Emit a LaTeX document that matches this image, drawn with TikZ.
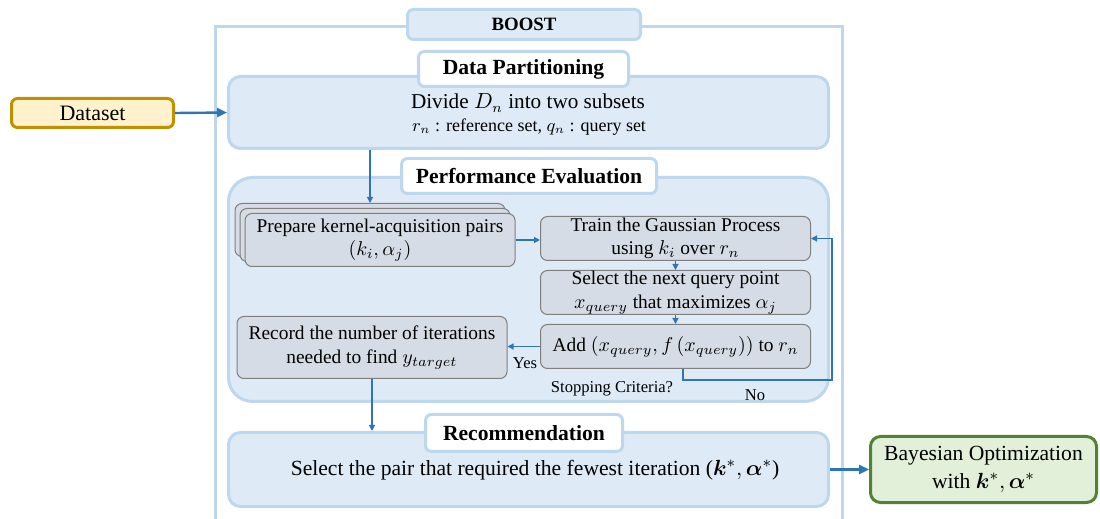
\documentclass[tikz,border=0pt]{standalone}
\usepackage{amsmath,bm}
\usepackage{fontspec}
\setmainfont{Liberation Serif}
\usetikzlibrary{arrows.meta}
\definecolor{lblue}{HTML}{BDD7EE}
\definecolor{fblue}{HTML}{DEEBF7}
\definecolor{gfill}{HTML}{D6DCE5}
\definecolor{gline}{HTML}{7F7F7F}
\definecolor{ablue}{HTML}{2E75B6}
\definecolor{dfill}{HTML}{FFF2CC}
\definecolor{dline}{HTML}{BF9000}
\definecolor{bfill}{HTML}{E2F0D9}
\definecolor{bline}{HTML}{548235}
\begin{document}
\begin{tikzpicture}[x=0.5pt,y=-0.5pt,
  bigbox/.style={draw=lblue, fill=fblue, line width=1.5pt, rounded corners=6pt, minimum width=300pt, inner sep=0pt},
  titlebox/.style={draw=lblue, fill=white, line width=1.5pt, rounded corners=3pt, inner sep=0pt, font=\fontsize{10.8}{12}\selectfont\bfseries},
  gbox/.style={draw=gline, fill=gfill, line width=0.5pt, rounded corners=3.5pt, minimum width=135pt, align=center, font=\fontsize{9.7}{11.7}\selectfont, inner sep=0pt},
  arr/.style={-{Triangle[length=3pt,width=3pt]}, draw=ablue, line width=0.6pt},
  barr/.style={-{Triangle[length=5pt,width=4.5pt]}, draw=ablue, line width=1.2pt},
  lbl/.style={font=\fontsize{8.3}{9}\selectfont, inner sep=0pt},
  txt/.style={inner sep=0pt, align=center}]
\useasboundingbox (0,0) rectangle (1100,519);
% outer frame
\coordinate (fbl) at (215,519);
\coordinate (ftl) at (215,27);
\coordinate (ftr) at (842,27);
\coordinate (fbr) at (842,519);
\draw[draw=lblue, line width=1.5pt] (fbl) -- (ftl) -- (ftr) -- (fbr);
\node[titlebox, font=\fontsize{9.4}{11}\selectfont\bfseries, fill=fblue, minimum width=116.5pt, minimum height=15pt] (boost) at (524,24.5) {BOOST};
% dataset
\node[draw=dline, fill=dfill, line width=1.5pt, rounded corners=3pt, minimum width=81pt, minimum height=14.5pt, inner sep=0pt, font=\fontsize{11}{12}\selectfont] (data) at (92.5,113) {Dataset};
% data partitioning
\node[bigbox, minimum height=36pt] (dp) at (528.5,112.5) {};
\node[titlebox, minimum width=105pt, minimum height=17.5pt] (dpt) at (523.5,69) {Data Partitioning};
\node[txt, font=\fontsize{10.6}{12}\selectfont] (dp1) at (528,103) {Divide $D_n$ into two subsets};
\node[txt, font=\fontsize{9}{10}\selectfont] (dp2) at (529,127) {$r_n$ : reference set, $q_n$ : query set};
% performance evaluation
\node[bigbox, rounded corners=12pt, minimum height=112pt] (pe) at (528.5,289.5) {};
\node[titlebox, minimum width=127.5pt, minimum height=17.5pt] (pet) at (529,176) {Performance Evaluation};
\node[gbox, minimum height=26.5pt] (prep3) at (370,230) {};
\node[gbox, minimum height=26.5pt] (prep2) at (375,235) {};
\node[gbox, minimum height=26.5pt] (prep) at (380,240) {Prepare kernel-acquisition pairs\\$(k_i,\alpha_j)$};
\node[gbox, minimum height=22pt] (train) at (675.5,238.5) {Train the Gaussian Process\\using $k_i$ over $r_n$};
\node[gbox, minimum height=22pt] (sel) at (675.5,292.5) {Select the next query point\\$x_{query}$ that maximizes $\alpha_j$};
\node[gbox, minimum height=22pt] (add) at (675.5,346.5) {Add $(x_{query}, f\left(x_{query}\right))$ to $r_n$};
\node[gbox, minimum height=31pt, font=\fontsize{9.7}{12}\selectfont] (rec) at (372,347.5) {Record the number of iterations\\needed to find $y_{target}$};
\node[lbl] (yes) at (525,363) {Yes};
\node[lbl] (stop) at (612,389) {Stopping Criteria?};
\node[lbl] (no) at (755,395) {No};
% recommendation
\node[bigbox, minimum height=37pt] (rb) at (528.5,469.5) {};
\node[titlebox, minimum width=98.5pt, minimum height=18.5pt] (rbt) at (524,433) {Recommendation};
\node[txt, font=\fontsize{10.8}{12}\selectfont] (rbtxt) at (535,470) {Select the pair that required the fewest iteration ($\bm{k}^{*}, \bm{\alpha}^{*}$)};
% bayesian
\node[draw=bline, fill=bfill, line width=1.5pt, rounded corners=5pt, minimum width=113pt, minimum height=33pt, inner sep=0pt, align=center, font=\fontsize{10.8}{13.8}\selectfont] (bo) at (983.5,469.5) {Bayesian Optimization\\with $\bm{k}^{*}, \bm{\alpha}^{*}$};
% connectors
\draw[barr] (data.east) -- (dp.west);
\draw[arr] (prep3.north |- dp.south) -- (prep3.north);
\draw[arr] (prep.east) -- (prep.east -| train.west);
\draw[arr] (train.south) -- (sel.north);
\draw[arr] (sel.south) -- (add.north);
\draw[arr] (add.west) -- (add.west -| rec.east);
\coordinate (loopc) at (832,380);
\draw[arr] ([xshift=3.75pt]add.south) |- (loopc) |- (train.east);
\draw[arr] (rec.south) -- (rec.south |- rb.north);
\draw[barr] (rb.east) -- (bo.west);
\end{tikzpicture}
\end{document}
